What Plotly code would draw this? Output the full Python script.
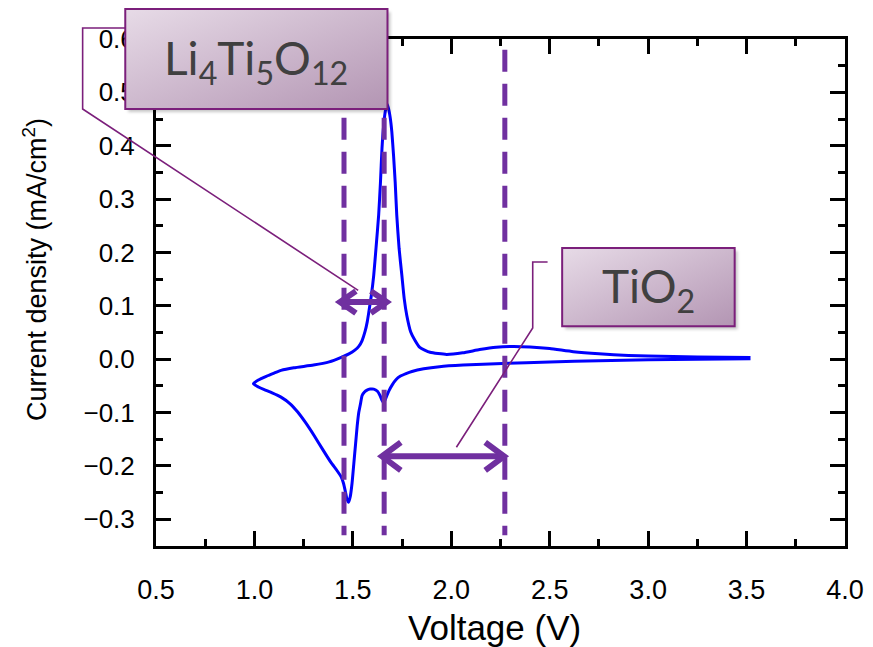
import base64
import plotly.graph_objects as go

# ---------------- data ----------------
volt_cathodic = [3.52, 3.25, 3.00, 2.75, 2.50, 2.26, 2.06, 1.94, 1.86, 1.80, 1.77, 1.74,
                 1.72, 1.70, 1.685, 1.672, 1.662, 1.655, 1.648, 1.638, 1.625, 1.606,
                 1.588, 1.572, 1.558, 1.547, 1.538, 1.530, 1.522, 1.514, 1.505, 1.496,
                 1.487, 1.478, 1.470, 1.462, 1.452, 1.440, 1.420, 1.388, 1.345, 1.303,
                 1.26, 1.22, 1.18, 1.135, 1.09, 1.05, 1.02, 0.995]
curr_cathodic = [0.001, 0.000, -0.001, -0.003, -0.005, -0.008, -0.011, -0.014, -0.018,
                 -0.023, -0.027, -0.032, -0.038, -0.048, -0.058, -0.069, -0.078, -0.081,
                 -0.077, -0.068, -0.060, -0.056, -0.056, -0.058, -0.062, -0.068, -0.085,
                 -0.100, -0.125, -0.158, -0.195, -0.232, -0.257, -0.268, -0.262, -0.248,
                 -0.232, -0.220, -0.209, -0.193, -0.168, -0.143, -0.119, -0.099, -0.083,
                 -0.071, -0.063, -0.057, -0.052, -0.046]

volt_anodic = [0.995, 1.02, 1.06, 1.10, 1.135, 1.20, 1.30, 1.38, 1.438, 1.48, 1.51, 1.53,
               1.547, 1.562, 1.573, 1.581, 1.594, 1.606, 1.618, 1.631, 1.640, 1.648, 1.657,
               1.665, 1.673, 1.681, 1.690, 1.698, 1.707, 1.715, 1.723, 1.735, 1.749, 1.761,
               1.774, 1.794, 1.816, 1.84, 1.892, 1.976, 2.058, 2.144, 2.228, 2.31, 2.40,
               2.50, 2.62, 2.75, 2.90, 3.00, 3.25, 3.52]
curr_anodic = [-0.046, -0.039, -0.032, -0.026, -0.021, -0.016, -0.011, -0.005, 0.003, 0.010,
               0.017, 0.024, 0.035, 0.052, 0.070, 0.088, 0.120, 0.157, 0.210, 0.270, 0.330,
               0.395, 0.440, 0.465, 0.478, 0.470, 0.452, 0.426, 0.380, 0.332, 0.270, 0.207,
               0.157, 0.113, 0.082, 0.051, 0.035, 0.022, 0.013, 0.009, 0.012, 0.018, 0.0225,
               0.024, 0.023, 0.020, 0.014, 0.010, 0.007, 0.006, 0.004, 0.003]

guide_voltages = [1.455, 1.659, 2.272]
guide_span = [0.58, -0.33]

arrow_li_volts = [1.435, 1.672]
arrow_li_curr = 0.107
arrow_ti_volts = [1.648, 2.268]
arrow_ti_curr = -0.182

callout_li_target = (1.527, 0.129)
callout_ti_target = (2.026, -0.165)

x_range = [0.5, 4.0]
y_range = [-0.35, 0.6]
x_tick_vals = [0.5, 1.0, 1.5, 2.0, 2.5, 3.0, 3.5, 4.0]
x_tick_text = ["0.5", "1.0", "1.5", "2.0", "2.5", "3.0", "3.5", "4.0"]
y_tick_vals = [-0.3, -0.2, -0.1, 0.0, 0.1, 0.2, 0.3, 0.4, 0.5, 0.6]
y_tick_text = ["\u22120.3", "\u22120.2", "\u22120.1", "0.0", "0.1", "0.2", "0.3", "0.4", "0.5", "0.6"]

label_li = "Li<sub>4</sub>Ti<sub>5</sub>O<sub>12</sub>"
label_ti = "TiO<sub>2</sub>"
x_title = "Voltage (V)"
y_title = "Current density (mA/cm<sup>2</sup>)"

# ---------------- layout geometry (screen pixels) ----------------
W, H = 873, 647
PAGE_OFFSET = 5
PL, PR, PT, PB = 153, 848, 36, 543   # plot area on screen
PW, PH = PR - PL, PB - PT
px_per_v = PW / (x_range[1] - x_range[0])
px_per_i = PH / (y_range[1] - y_range[0])

PURPLE = "#7030A0"
CALLOUT = "#7B1F7B"
FONT = "Liberation Sans, Arial, sans-serif"


def px2paper(xp, yp):
    return (xp - PL) / PW, (PB - yp) / PH


def data2paper(v, i):
    return (v - x_range[0]) / (x_range[1] - x_range[0]), (i - y_range[0]) / (y_range[1] - y_range[0])


fig = go.Figure()

# CV curve
fig.add_trace(go.Scatter(
    x=volt_cathodic + volt_anodic[1:], y=curr_cathodic + curr_anodic[1:],
    mode="lines", line=dict(color="#0000FF", width=3, shape="spline", smoothing=0.5),
    showlegend=False, hoverinfo="skip"))

# dashed guide lines
for v in guide_voltages:
    fig.add_trace(go.Scatter(
        x=[v, v], y=guide_span, mode="lines",
        line=dict(color=PURPLE, width=5, dash="22px,12px"),
        showlegend=False, hoverinfo="skip"))


def double_arrow(volts, curr, arm_x_px, arm_y_px):
    ax = arm_x_px / px_per_v
    ay = arm_y_px / px_per_i
    a, b = volts
    xs = [a, b, None,
          a + ax, a, a + ax, None,
          b - ax, b, b - ax]
    ys = [curr, curr, None,
          curr + ay, curr, curr - ay, None,
          curr + ay, curr, curr - ay]
    return xs, ys


for volts, curr, axp, ayp in [(arrow_li_volts, arrow_li_curr, 16, 11),
                              (arrow_ti_volts, arrow_ti_curr, 19, 14)]:
    xs, ys = double_arrow(volts, curr, axp, ayp)
    fig.add_trace(go.Scatter(x=xs, y=ys, mode="lines",
                             line=dict(color=PURPLE, width=6),
                             showlegend=False, hoverinfo="skip"))

shapes = []
annotations = []
images = []


def gradient_box(x0p, y0p, x1p, y1p, label):
    w, h = x1p - x0p, y1p - y0p
    pad = 6
    svg = (
        '<svg xmlns="http://www.w3.org/2000/svg" width="%.1f" height="%.1f" '
        'viewBox="0 0 %.1f %.1f" preserveAspectRatio="none">'
        '<defs><linearGradient id="g" x1="0" y1="0" x2="1" y2="1">'
        '<stop offset="0" stop-color="#e7dbe7"/><stop offset="1" stop-color="#b395b3"/>'
        '</linearGradient><filter id="b"><feGaussianBlur stdDeviation="1.5"/></filter></defs>'
        '<rect x="3" y="3" width="%.1f" height="%.1f" fill="#000" fill-opacity="0.22" filter="url(#b)"/>'
        '<rect x="0" y="0" width="%.1f" height="%.1f" fill="url(#g)"/></svg>'
    ) % (w + pad, h + pad, w + pad, h + pad, w, h, w, h)
    src = "data:image/svg+xml;base64," + base64.b64encode(svg.encode()).decode()
    ix, iy = px2paper(x0p, y0p)
    images.append(dict(source=src, xref="paper", yref="paper", x=ix, y=iy,
                       sizex=(w + pad) / PW, sizey=(h + pad) / PH,
                       xanchor="left", yanchor="top", sizing="stretch", layer="above"))
    bx0, by0 = px2paper(x0p, y0p)
    bx1, by1 = px2paper(x1p, y1p)
    shapes.append(dict(type="rect", xref="paper", yref="paper", x0=bx0, y0=by0, x1=bx1, y1=by1,
                       fillcolor="rgba(0,0,0,0)", line=dict(color=CALLOUT, width=2), layer="above"))
    cx, cy = px2paper((x0p + x1p) / 2, (y0p + y1p) / 2 + 2)
    annotations.append(dict(x=cx, y=cy, xref="paper", yref="paper", text=label, showarrow=False,
                            xanchor="center", yanchor="middle",
                            font=dict(family="Lato, Open Sans, sans-serif", size=46, color="#404040")))


def connector(points_px, target):
    pts = [px2paper(x, y) for x, y in points_px] + [data2paper(*target)]
    path = "M %f %f " % pts[0] + " ".join("L %f %f" % p for p in pts[1:])
    shapes.append(dict(type="path", xref="paper", yref="paper", path=path,
                       line=dict(color=CALLOUT, width=1.6), layer="above"))


connector([(122, 25), (79, 25), (79, 106)], callout_li_target)
connector([(548, 259), (533, 259), (533, 325)], callout_ti_target)
gradient_box(122, 6, 386.5, 106, label_li)
gradient_box(562.7, 245, 736.7, 323.3, label_ti)

# axis titles
tx, ty = px2paper(494, 624)
annotations.append(dict(x=tx, y=ty, xref="paper", yref="paper", text=x_title, showarrow=False,
                        xanchor="center", yanchor="middle",
                        font=dict(family=FONT, size=35, color="black")))
tx, ty = px2paper(31, 267)
annotations.append(dict(x=tx, y=ty, xref="paper", yref="paper", text=y_title, showarrow=False,
                        xanchor="center", yanchor="middle", textangle=-90,
                        font=dict(family=FONT, size=27, color="black")))

axis_common = dict(
    showline=True, linecolor="black", linewidth=3, mirror="ticks",
    ticks="inside", ticklen=15, tickwidth=3, tickcolor="black",
    showgrid=False, zeroline=False,
)

fig.update_layout(
    width=W - PAGE_OFFSET, height=H - PAGE_OFFSET,
    margin=dict(l=PL - PAGE_OFFSET, r=W - PR, t=PT - PAGE_OFFSET, b=H - PB),
    paper_bgcolor="white", plot_bgcolor="white",
    xaxis=dict(range=x_range, tickvals=x_tick_vals, ticktext=x_tick_text,
               minor=dict(dtick=0.25, tick0=0.5, ticks="inside", ticklen=7, tickwidth=3, tickcolor="black"),
               ticklabelstandoff=18,
               tickfont=dict(family=FONT, size=27, color="black"),
               **axis_common),
    yaxis=dict(range=y_range, tickvals=y_tick_vals, ticktext=y_tick_text,
               minor=dict(dtick=0.05, tick0=0, ticks="inside", ticklen=7, tickwidth=3, tickcolor="black"),
               ticklabelstandoff=13,
               tickfont=dict(family=FONT, size=26, color="black"),
               **axis_common),
    shapes=shapes,
    annotations=annotations,
    images=images,
    showlegend=False,
)

fig.write_html("out.html")
